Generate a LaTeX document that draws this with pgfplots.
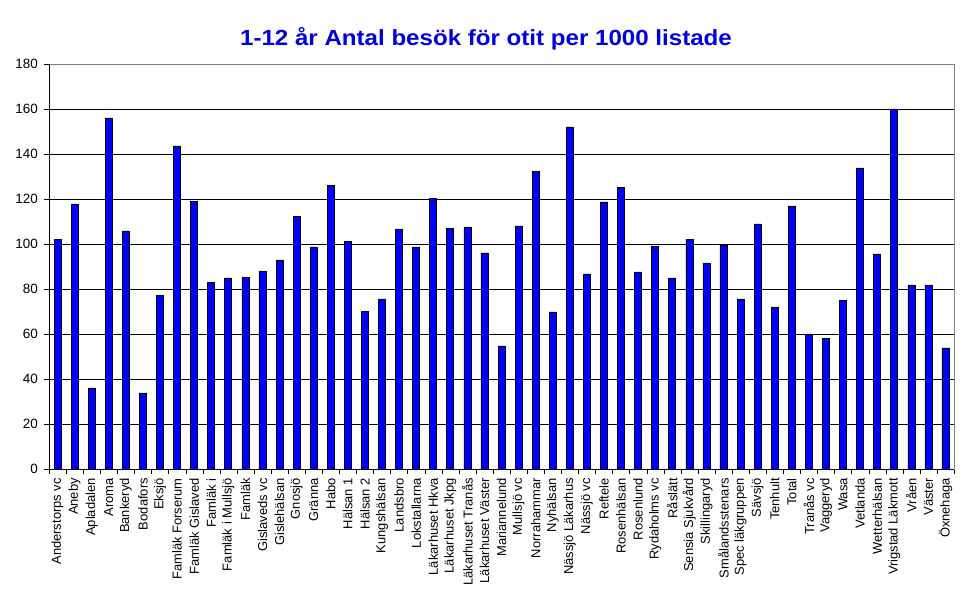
\documentclass[border=0pt]{standalone}
\usepackage{pgfplots}
\pgfplotsset{compat=1.18}
\usepackage{fontspec}
\setmainfont{Liberation Sans}
\definecolor{barblue}{RGB}{0,0,255}
\definecolor{titleblue}{RGB}{0,0,220}
\definecolor{boxgray}{RGB}{128,128,128}

\pgfplotstableread{
x v
1 102.2
2 117.8
3 36.0
4 156.0
5 105.8
6 33.8
7 77.3
8 143.6
9 119.1
10 83.1
11 84.9
12 85.3
13 88.0
14 92.9
15 112.4
16 98.7
17 126.2
18 101.3
19 70.2
20 75.6
21 106.7
22 98.7
23 120.4
24 107.1
25 107.6
26 96.0
27 54.7
28 108.0
29 132.4
30 69.8
31 152.0
32 86.7
33 118.7
34 125.3
35 87.6
36 99.1
37 84.9
38 102.2
39 91.6
40 99.6
41 75.6
42 108.9
43 72.0
44 116.9
45 60.0
46 58.2
47 75.1
48 133.8
49 95.6
50 160.0
51 81.8
52 81.8
53 53.8
}\besok

\begin{document}
\begin{tikzpicture}[x=1bp,y=1bp]
\useasboundingbox (0,0) rectangle (970,604);
\node[anchor=base, text=titleblue, xscale=1.1, font=\fontsize{22}{25}\selectfont\bfseries] at (486,558) {1-12 år Antal besök för otit per 1000 listade};
\begin{axis}[
    at={(49bp,135bp)}, anchor=south west,
    scale only axis,
    width=905bp, height=405bp,
    xmin=0.5, xmax=53.5,
    ymin=0, ymax=180,
    ytick={0,20,...,180},
    xtick={1,...,53},
    minor xtick={0.5,1.5,...,53.5},
    xticklabels={Anderstorps vc,Aneby,Apladalen,Aroma,Bankeryd,Bodafors,Eksjö,Famläk Forserum,Famläk Gislaved,Famläk i,Famläk i Mullsjö,Famläk,Gislaveds vc,Gislehälsan,Gnosjö,Gränna,Habo,Hälsan 1,Hälsan 2,Kungshälsan,Landsbro,Lokstallarna,Läkarhuset Hkva,Läkarhuset Jkpg,Läkarhuset Tranås,Läkarhuset Väster,Mariannelund,Mullsjö vc,Norrahammar,Nyhälsan,Nässjö Läkarhus,Nässjö vc,Reftele,Rosenhälsan,Rosenlund,Rydaholms vc,Råslätt,Sensia Sjukvård,Skillingaryd,Smålandsstenars,Spec läkgruppen,Sävsjö,Tenhult,Total,Tranås vc,Vaggeryd,Wasa,Vetlanda,Wetterhälsan,Vrigstad Läkmott,Vråen,Väster,Öxnehaga},
    x tick label style={rotate=90, anchor=east, inner sep=0pt, xshift=-4bp, font=\fontsize{13}{15}\selectfont},
    y tick label style={font=\fontsize{13.5}{15}\selectfont, inner sep=0pt, xshift=-6bp},
    /pgf/number format/assume math mode=true,
    tick align=outside,
    major x tick style={draw=none},
    minor x tick style={black},
    minor tick length=5bp,
    major tick length=5bp,
    y tick style={black},
    xtick pos=bottom, ytick pos=left,
    ymajorgrids,
    major grid style={black, line width=0.7pt},
    axis line style={boxgray, line width=0.8pt},
    ybar, bar width=7bp,
    clip=false,
]
\addplot[fill=barblue, draw=black, line width=0.6pt] table[x=x, y=v] {\besok};
\draw[black, line width=0.8pt] (axis cs:0.5,180) -- (axis cs:0.5,0) -- (axis cs:53.5,0);
\end{axis}
\end{tikzpicture}
\end{document}
